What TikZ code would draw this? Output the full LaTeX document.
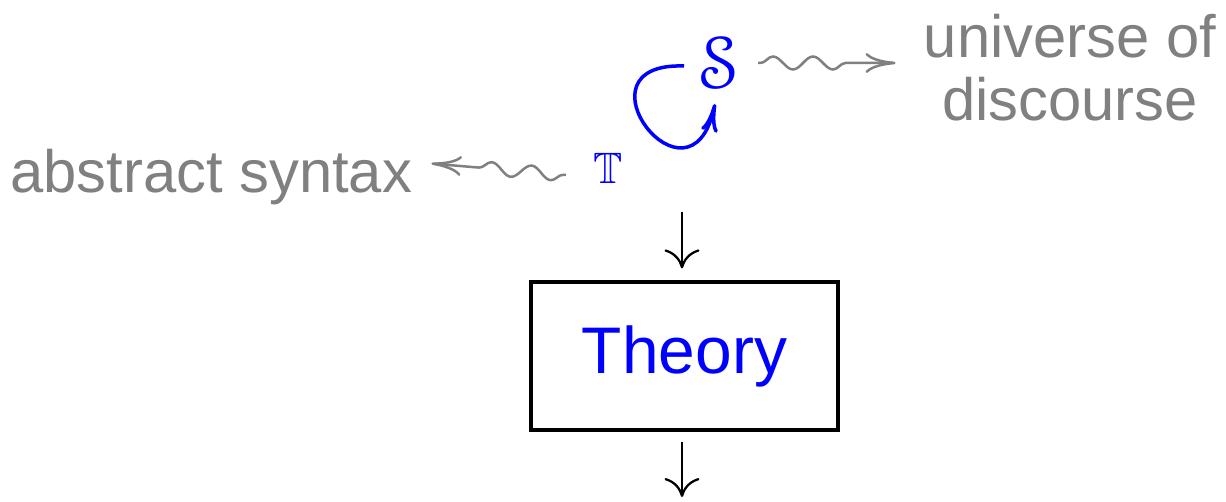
\documentclass[tikz,border=0pt]{standalone}
\usepackage{fontspec}
\setmainfont{Liberation Sans}
\usepackage{amssymb}
\usepackage[mathcal]{eucal}
\usetikzlibrary{arrows.meta,decorations.pathmorphing,calc}
\definecolor{lblgray}{RGB}{128,128,128}
\tikzset{
  lbl/.style={text=lblgray,inner sep=0pt,font=\fontsize{34}{35.7}\selectfont},
  wavy/.style={draw=lblgray,line width=0.5mm,
    -{Computer Modern Rightarrow[length=6mm,width=4mm]},
    decorate,decoration={snake,amplitude=1.3mm,segment length=8mm,pre length=0.5mm,post length=6.5mm}},
  loopar/.style={draw=blue,line width=0.7mm,
    -{Computer Modern Rightarrow[length=5.6mm,width=3.4mm]}},
  downar/.style={draw=black,line width=0.45mm,
    -{Computer Modern Rightarrow[length=3.8mm,width=7mm]}},
  thbox/.style={draw=black,line width=0.65mm,minimum width=6.14cm,minimum height=2.96cm,
    text=blue,font=\fontsize{37.5}{40}\selectfont}
}
\begin{document}
\begin{tikzpicture}[x=0.02cm,y=-0.02cm]
\useasboundingbox (0,0) rectangle (1226,502);
\node[lbl,anchor=base west] (abs) at (10,193) {abstract syntax};
\node[lbl,align=center] (uni) at (1070,68) {universe of\\discourse};
\node[text=blue,inner sep=0pt,font=\fontsize{25}{30}\selectfont] (T) at (608,168) {$\mathbb{T}$};
\node[text=blue,inner sep=0pt,font=\fontsize{42}{46}\selectfont] (S) at (719,63) {$\mathcal{S}$};
\node[thbox] (th) at (684.5,356) {Theory};
\coordinate (in) at (682,212);
\coordinate (out) at (682,497);
\draw[wavy] ($(T.west)+(-27,7)$) -- ($(abs.east)+(19,-14)$);
\draw[wavy] ($(S)+(39,0)$) -- ($(uni.west)+(-28,-5)$);
\draw[loopar] ($(S)+(-35,3)$) .. controls ($(S)+(-151,-1)$) and ($(S)+(-29,157)$) .. ($(S)+(-4,41)$);
\draw[downar] (in) -- (in |- th.north) [shorten >=0.24cm];
\draw[downar,shorten <=0.2cm] (out |- th.south) -- (out);
\end{tikzpicture}
\end{document}
